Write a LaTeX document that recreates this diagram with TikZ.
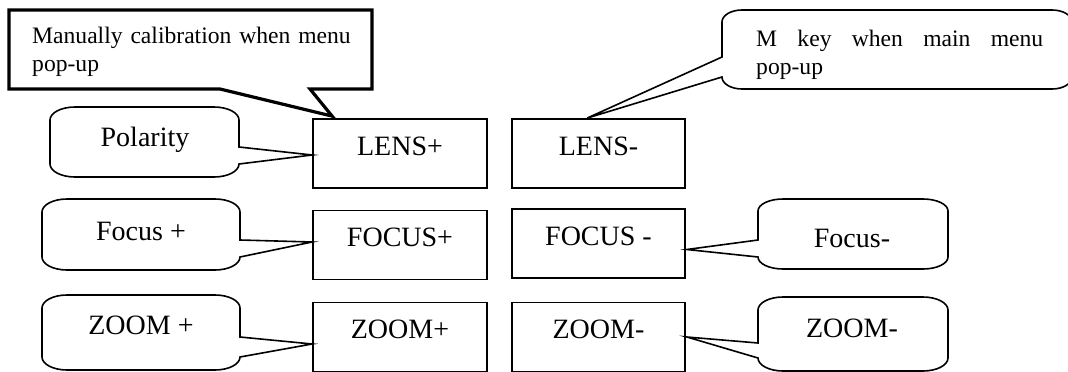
\documentclass[tikz,border=0pt]{standalone}
\usepackage{fontspec}
\setmainfont{Liberation Serif}
\usetikzlibrary{calc}
% rounded callout, tail on the right side: L,T,R,B,tail-upper-y,tip,rx,ry
\newcommand{\tailright}[8]{%
 \draw[callout] ({#1+#7},#2) -- ({#3-#7},#2)
   .. controls ({#3-0.448*#7},#2) and (#3,{#2+0.448*#8}) .. (#3,{#2+#8})
   -- (#3,#5) -- (#6) -- (#3,{#4-#8})
   .. controls (#3,{#4-0.448*#8}) and ({#3-0.448*#7},#4) .. ({#3-#7},#4)
   -- ({#1+#7},#4)
   .. controls ({#1+0.448*#7},#4) and (#1,{#4-0.448*#8}) .. (#1,{#4-#8})
   -- (#1,{#2+#8})
   .. controls (#1,{#2+0.448*#8}) and ({#1+0.448*#7},#2) .. ({#1+#7},#2) -- cycle;}
% rounded callout, tail on the left side
\newcommand{\tailleft}[8]{%
 \draw[callout] ({#1+#7},#2) -- ({#3-#7},#2)
   .. controls ({#3-0.448*#7},#2) and (#3,{#2+0.448*#8}) .. (#3,{#2+#8})
   -- (#3,{#4-#8})
   .. controls (#3,{#4-0.448*#8}) and ({#3-0.448*#7},#4) .. ({#3-#7},#4)
   -- ({#1+#7},#4)
   .. controls ({#1+0.448*#7},#4) and (#1,{#4-0.448*#8}) .. (#1,{#4-#8})
   -- (#6) -- (#1,#5) -- (#1,{#2+#8})
   .. controls (#1,{#2+0.448*#8}) and ({#1+0.448*#7},#2) .. ({#1+#7},#2) -- cycle;}
\begin{document}
\begin{tikzpicture}[x=1pt,y=-1pt,
  btn/.style={draw, line width=1.8pt, inner sep=0pt, minimum height=69pt,
    text height=36pt, text depth=33pt, font=\fontsize{28}{32}\selectfont},
  btnl/.style={btn, minimum width=174pt},
  btnr/.style={btn, minimum width=173pt},
  callout/.style={draw, line width=1.6pt, line join=miter},
  big/.style={font=\fontsize{28}{32}\selectfont, inner sep=0pt},
  small/.style={font=\fontsize{23.6}{28.5}\selectfont, inner sep=0pt, align=left}]
\fill[white] (0,0) rectangle (1068,372);
\useasboundingbox (0,0) rectangle (1068,372);

% key boxes
\node[btnl] (lensp) at (400,153.5) {LENS+};
\node[btnr] (lensm) at (598.5,153.5) {LENS-};
\node[btnl] (focp) at (400,245) {FOCUS+};
\node[btnr] (focm) at (598.5,243.5) {FOCUS -};
\node[btnl] (zoomp) at (400,337) {ZOOM+};
\node[btnr] (zoomm) at (598.5,337) {ZOOM-};

% tail tips
\coordinate (tmc) at ($(lensp.north west)+(20,-2)$);
\coordinate (tmk) at ($(lensm.north west)+(76,0)$);
\coordinate (tpol) at ($(lensp.west)+(0,1.5)$);
\coordinate (tfp) at ($(focp.west)+(0,-3)$);
\coordinate (tzp) at ($(zoomp.west)+(0,7)$);
\coordinate (tfm) at ($(focm.east)+(1,6)$);
\coordinate (tzm) at ($(zoomm.east)+(1,0)$);

% rectangular callout (top left)
\draw[line width=3.2pt, line join=miter] (9,10) -- (372,10) -- (372,89) -- (310,89)
  -- (tmc) -- (220,89) -- (9,89) -- cycle;
\node[small, anchor=base west, text width=340pt] (mctext) at (32,43)
  {Manually calibration when menu\\pop-up};

% rounded callout (top right)
\tailleft{722}{10}{1072}{89}{57}{tmk}{20}{12}
\node[small, anchor=base west, text width=290pt] (mktext) at (756,46)
  {\makebox[287pt][l]{M\hfill key\hfill when\hfill main\hfill menu}\\pop-up};

% left callouts
\tailright{50}{107}{239}{177}{147}{tpol}{25}{13}
\node[big, anchor=base] (poltext) at (145,146) {Polarity};
\tailright{42}{199}{240}{270}{240}{tfp}{25}{13}
\node[big, anchor=base] (fptext) at (141,240) {Focus +};
\tailright{42}{295}{240}{370}{337}{tzp}{25}{13}
\node[big, anchor=base] (zptext) at (141,334) {ZOOM +};

% right callouts
\tailleft{758}{199}{948}{269}{240}{tfm}{25}{12}
\node[big, anchor=base] (fmtext) at (852,247) {Focus-};
\tailleft{758}{297}{948}{371}{343}{tzm}{25}{13}
\node[big, anchor=base] (zmtext) at (852,337) {ZOOM-};
\end{tikzpicture}
\end{document}
